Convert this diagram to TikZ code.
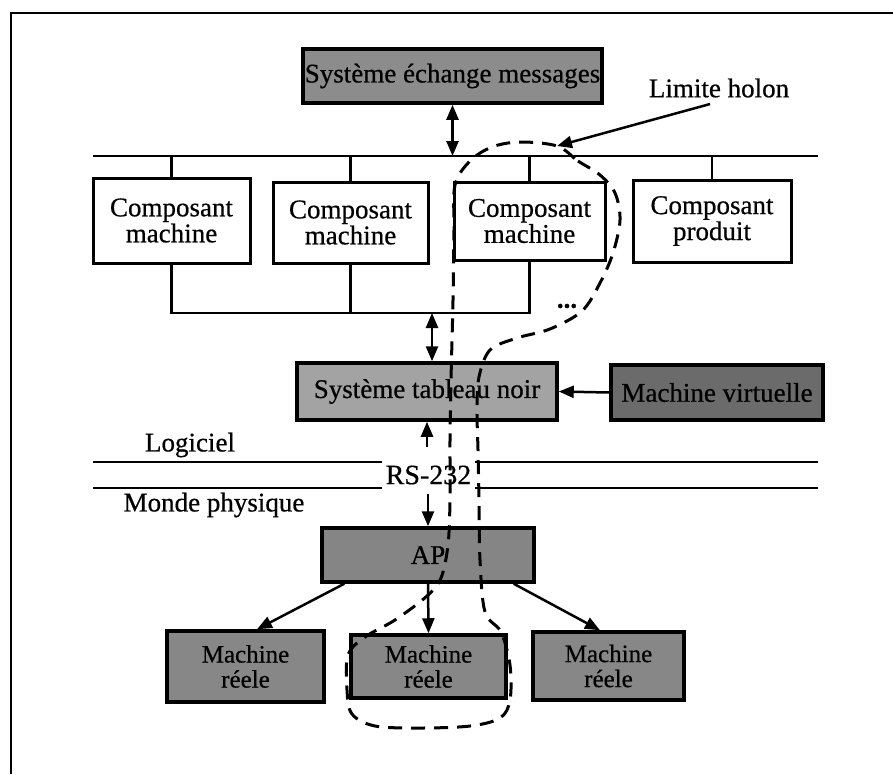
\documentclass[tikz,border=0pt]{standalone}
\usepackage{fontspec}
\setmainfont{Liberation Serif}[FakeBold=0.6]
\usetikzlibrary{arrows.meta,calc}
\definecolor{gsem}{gray}{0.55}
\definecolor{gtab}{gray}{0.64}
\definecolor{gmv}{gray}{0.42}
\definecolor{gap}{gray}{0.52}
\definecolor{gmr}{gray}{0.53}
\begin{document}
\begin{tikzpicture}[x=1pt,y=-1pt,
  every node/.style={font=\fontsize{27}{26}\selectfont},
  wbox/.style={draw, line width=3pt, fill=white, align=center, inner sep=0pt},
  gbox/.style={draw, line width=3.5pt, align=center, inner sep=0pt},
  wire/.style={line width=2.5pt},
  arr/.style={line width=2.5pt, -{Triangle[length=15pt,width=12pt]}},
  darr/.style={line width=2.5pt, {Triangle[length=15pt,width=12pt]}-{Triangle[length=15pt,width=12pt]}},
  holon/.style={line width=3pt, dash pattern=on 14pt off 9pt},
  mrtext/.style={font=\fontsize{25}{25}\selectfont}
]
\useasboundingbox (0,0) rectangle (893,774);
% frame
\draw[line width=2.5pt] (11,774) -- (11,13) -- (893,13);

% top
\node[gbox, fill=gsem, minimum width=299, minimum height=54] (sem) at (452.5,76) {Système échange messages};
\node (lh) at (719,88) {Limite holon};

\node[wbox, minimum width=157, minimum height=85] (c1) at (171.5,220.5) {Composant\\machine};
\node[wbox, minimum width=155, minimum height=81] (c2) at (350.5,222.5) {Composant\\machine};
\node[wbox, minimum width=151, minimum height=78] (c3) at (529.5,221) {Composant\\machine};
\node[wbox, minimum width=158, minimum height=82] (c4) at (712,221) {Composant\\produit};

\coordinate (busL) at (93,156);
\coordinate (busR) at (818,156);
\draw[wire] (busL) -- (busR);
\foreach \n in {c1,c2,c3,c4} \draw[wire] (\n.north) -- (\n.north |- busL);
\draw[darr] (sem.south) -- (sem.south |- busL);

\coordinate (bbL) at (168,313);
\draw[wire] (c1.south) -- (c1.south |- bbL) -- (c3.south |- bbL) -- (c3.south);
\draw[wire] (c2.south) -- (c2.south |- bbL);
\node[font=\fontsize{27}{26}\selectfont\bfseries, inner sep=0pt] (dots) at (567,306) {...};

% middle
\node[gbox, fill=gtab, minimum width=260, minimum height=57] (tab) at (427,391.5) {Système tableau noir};
\node[gbox, fill=gmv, minimum width=212, minimum height=55] (mv) at (717,392.5) {Machine virtuelle};
\coordinate (bbA) at (432,313);
\draw[darr] (bbA) -- (bbA |- tab.north);
\draw[arr] (mv.west) -- (tab.east);

\coordinate (l1a) at (93,462);
\coordinate (l1b) at (818,462);
\coordinate (l2a) at (93,488);
\coordinate (l2b) at (818,488);
\draw[wire] (l1a) -- (l1b);
\draw[wire] (l2a) -- (l2b);
\node[fill=white, inner sep=0pt, minimum width=93, minimum height=32, font=\fontsize{28}{26}\selectfont] (rs) at (428.5,475) {RS-232};
\node (log) at (190,445) {Logiciel};
\node (mp) at (214,505) {Monde physique};

% bottom
\node[gbox, fill=gap, minimum width=212, minimum height=54] (ap) at (428,555) {AP};
\node[gbox, fill=gmr, minimum width=157, minimum height=71, mrtext] (mr1) at (245.5,666.5) {Machine\\réele};
\node[gbox, fill=gmr, minimum width=155, minimum height=63, mrtext] (mr2) at (428.5,666.5) {Machine\\réele};
\node[gbox, fill=gmr, minimum width=151, minimum height=68, mrtext] (mr3) at (608.5,666) {Machine\\réele};

\coordinate (rsU) at (427,447);
\draw[arr] (rsU) -- (rsU |- tab.south);
\coordinate (rsD) at (428,494);
\draw[arr] (rsD) -- (rsD |- ap.north);

\draw[arr] ($(ap.south west)+(24,0)$) -- ($(mr1.north)+(11.5,0)$);
\draw[arr] (ap.south) -- (mr2.north);
\draw[arr] ($(ap.south east)+(-22,0)$) -- ($(mr3.north)+(-8.5,0)$);

% holon boundary
\coordinate (htop) at (557,146);
\draw[arr] ($(lh.south)+(-9,3)$) -- (htop);
\draw[holon] plot[smooth cycle, tension=0.55] coordinates {
 (557,146) (578,161) (600,175) (615,193) (620,220) (613,253) (600,283)
 (582,311) (550,329) (517,338) (490,350) (479,377) (477,410) (478,450)
 (479,500) (480,560) (485,612) (501,632) (510,665) (510,700) (500,718)
 (470,726) (420,728) (375,726) (352,714) (347,690) (348,655) (365,637)
 (395,620) (427,596) (441,578) (448,545) (450,500) (450,440) (451,380)
 (453,300) (454,230) (455,185) (470,161) (492,147) (520,142)
};
\end{tikzpicture}
\end{document}
